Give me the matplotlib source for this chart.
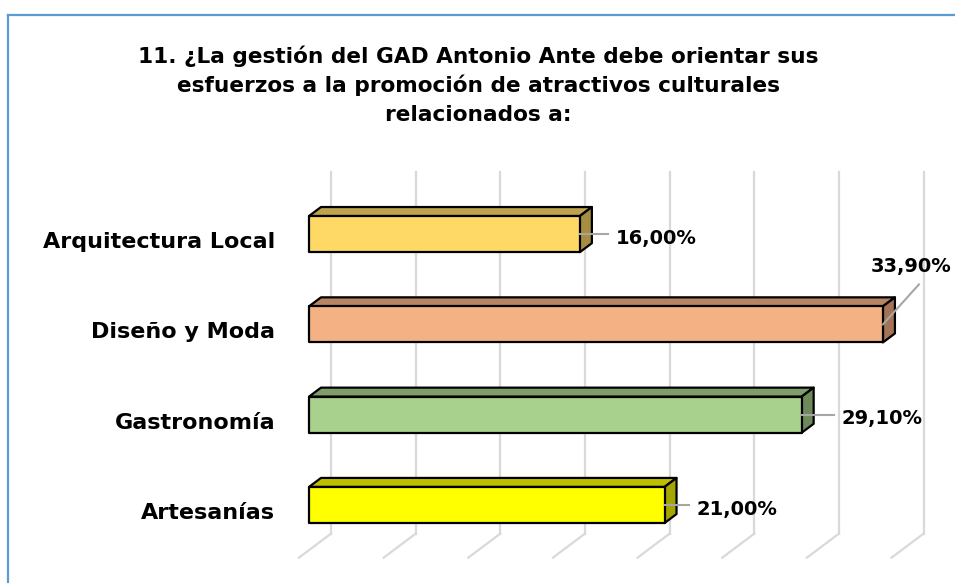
import matplotlib
matplotlib.use("Agg")
import matplotlib.pyplot as plt
from matplotlib.patches import Polygon, Rectangle
from matplotlib.lines import Line2D

# ---------------- data ----------------
categories = ["Artesanías", "Gastronomía", "Diseño y Moda", "Arquitectura Local"]
values = [21.0, 29.1, 33.9, 16.0]
value_labels = ["21,00%", "29,10%", "33,90%", "16,00%"]
grid_ticks = [0, 5, 10, 15, 20, 25, 30, 35]
title_lines = ["11. ¿La gestión del GAD Antonio Ante debe orientar sus",
               "esfuerzos a la promoción de atractivos culturales",
               "relacionados a:"]

# ---------------- style ----------------
front_colors = ["#FFFF00", "#A9D18E", "#F4B183", "#FFD966"]
top_colors = ["#BFBF00", "#7F9D6B", "#B88563", "#BFA34D"]
side_colors = ["#A6A600", "#6E8A5A", "#A47356", "#A68D42"]
FONT = "DejaVu Sans"

W, H = 955, 583
fig = plt.figure(figsize=(W / 100, H / 100), dpi=100)
ax = fig.add_axes([0, 0, 1, 1])
PX_X = 16.93   # pixels per percent
PX_Y = 90.3    # pixels per category
X0 = 309       # pixel of 0 % on bar front plane
Y0 = 505       # pixel (from top) of first category centre
ax.set_xlim(-X0 / PX_X, (W - X0) / PX_X)
ax.set_ylim(-(H - Y0) / PX_Y, Y0 / PX_Y)
ax.axis("off")

# 3D projection parameters (depth 0=floor front edge, 1=back wall)
DX = 32 / PX_X
DY = 24 / PX_Y
ZF, ZB = 0.3125, 0.6875
HALF = 0.2
YMIN, YMAX = -0.5, len(categories) - 0.5


def P(x, y, z):
    return (x + (z - ZF) * DX, y + (z - ZF) * DY)


grid_c = "#D9D9D9"
for g in grid_ticks:
    a, b = P(g, YMIN, 1), P(g, YMAX, 1)
    ax.add_line(Line2D([a[0], b[0]], [a[1], b[1]], color=grid_c, lw=1.6, zorder=1))
    c, d = P(g, YMIN, 0), P(g, YMIN, 1)
    ax.add_line(Line2D([c[0], d[0]], [c[1], d[1]], color=grid_c, lw=1.6, zorder=1))

for i, v in enumerate(values):
    lo, hi = i - HALF, i + HALF
    top = [P(0, hi, ZF), P(v, hi, ZF), P(v, hi, ZB), P(0, hi, ZB)]
    side = [P(v, lo, ZF), P(v, hi, ZF), P(v, hi, ZB), P(v, lo, ZB)]
    ax.add_patch(Polygon(top, closed=True, facecolor=top_colors[i],
                         edgecolor="black", lw=1.6, joinstyle="round", zorder=3))
    ax.add_patch(Polygon(side, closed=True, facecolor=side_colors[i],
                         edgecolor="black", lw=1.6, joinstyle="round", zorder=3))
    ax.add_patch(Rectangle((0, lo), v, hi - lo, facecolor=front_colors[i],
                           edgecolor="black", lw=1.6, joinstyle="round", zorder=4))

# category labels
for i, name in enumerate(categories):
    ax.text(-34 / PX_X, i - 14 / PX_Y, name, ha="right", va="baseline",
            fontsize=16, fontweight="bold", family=FONT, color="black")

# data labels with leader lines (offsets in pixels)
leader_end = [(24, 0), (32, 0), (36, 40), (28, 0)]
for i, v in enumerate(values):
    ex, ey = leader_end[i]
    x1, y1 = v + ex / PX_X, i + ey / PX_Y
    ax.add_line(Line2D([v, x1], [i, y1], color="#A6A6A6", lw=1.5, zorder=5))
    if ey == 0:
        ax.text(x1 + 8 / PX_X, i - 4 / PX_Y, value_labels[i], ha="left", va="center",
                fontsize=14, fontweight="bold", family=FONT, zorder=6)
    else:
        ax.text(x1 - 8 / PX_X, y1 + 8 / PX_Y, value_labels[i], ha="center", va="bottom",
                fontsize=14, fontweight="bold", family=FONT, zorder=6)

# title
for k, line in enumerate(title_lines):
    fig.text(478 / W, 1 - (63 + 29 * k) / H, line, ha="center", va="baseline",
             fontsize=15.6, fontweight="bold", family=FONT)

# border
bc = "#5B9BD5"
fig.add_artist(Line2D([8 / W, 8 / W], [0, 1 - 14.5 / H], color=bc, lw=1.6,
                      transform=fig.transFigure))
fig.add_artist(Line2D([8 / W, 1], [1 - 14.5 / H, 1 - 14.5 / H], color=bc, lw=1.6,
                      transform=fig.transFigure))

fig.savefig("out.png", dpi=100)
